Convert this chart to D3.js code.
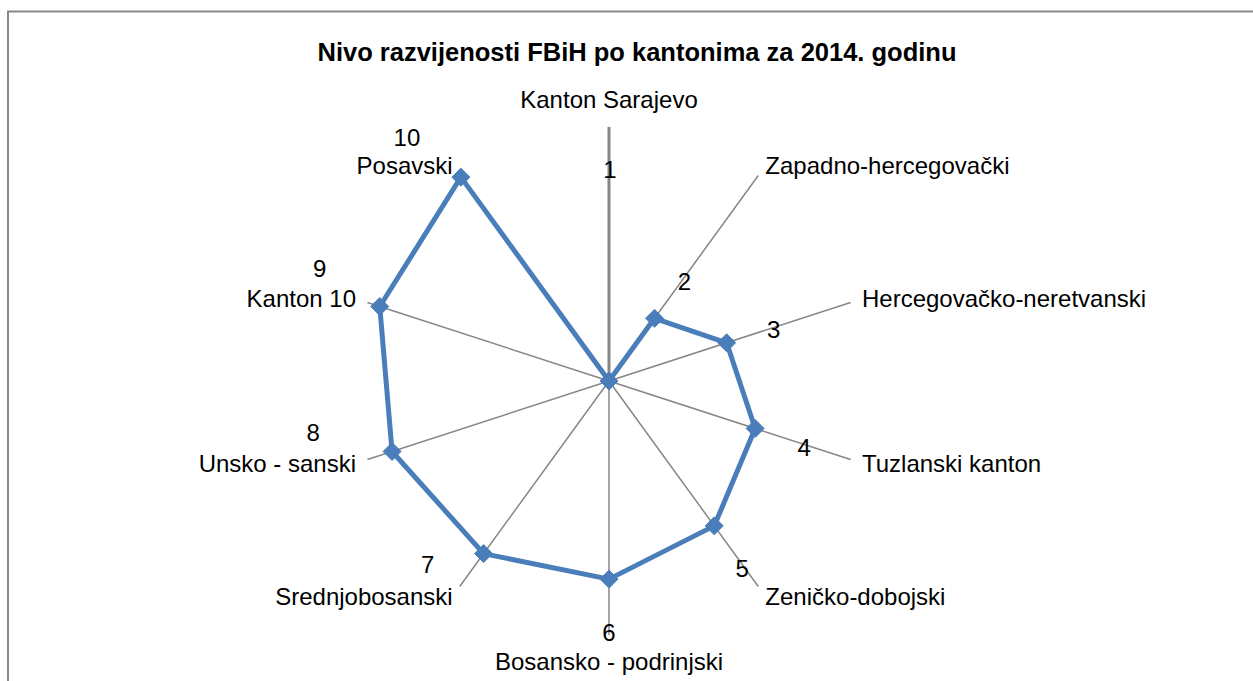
<!DOCTYPE html>
<html>
<head>
<meta charset="utf-8">
<script src="https://cdn.jsdelivr.net/npm/d3@7"></script>
<style>
  html, body { margin: 0; padding: 0; background: #fff; }
  svg text { font-family: "Liberation Sans", Arial, sans-serif; fill: #000; }
</style>
</head>
<body>
<div id="chart"></div>
<script>
// categories (cantons), in chart order going clockwise from the top
const kantoni = [
    "Kanton Sarajevo",
    "Zapadno-hercegovački",
    "Hercegovačko-neretvanski",
    "Tuzlanski kanton",
    "Zeničko-dobojski",
    "Bosansko - podrinjski",
    "Srednjobosanski",
    "Unsko - sanski",
    "Kanton 10",
    "Posavski"
];

// rank labels shown next to each point
const rangovi = ["1", "2", "3", "4", "5", "6", "7", "8", "9", "10"];

// values (share of the outer ring)
const vrijednosti = [0, 0.305, 0.487, 0.605, 0.705, 0.78, 0.84, 0.898, 0.949, 0.992];

// where each rank label sits relative to its marker (px)
const rankOffset = [
    [1, -211], [30, -37], [47, -13], [49, 19], [28, 43],
    [0, 53], [-56, 11], [-79, -19], [-60, -38], [-54, -40]
];

const width = 1253;
const height = 681;
const cx = 609;
const cy = 381;
const radius = 254;

const svg = d3.select("#chart")
    .append("svg")
    .attr("width", width)
    .attr("height", height);

// chart area border
svg.append("rect")
    .attr("x", 8)
    .attr("y", 11.5)
    .attr("width", 1300)
    .attr("height", 700)
    .attr("fill", "#fff")
    .attr("stroke", "#888")
    .attr("stroke-width", 2);

// title
svg.append("text")
    .attr("x", 637)
    .attr("y", 52)
    .attr("dy", "0.35em")
    .attr("text-anchor", "middle")
    .style("font-size", "25.5px")
    .style("font-weight", "bold")
    .text("Nivo razvijenosti FBiH po kantonima za 2014. godinu");

// scales
const r = d3.scaleLinear().domain([0, 1]).range([0, radius]);
const angle = d3.scaleLinear().domain([0, kantoni.length]).range([0, 2 * Math.PI]);

const px = (i, v) => Math.sin(angle(i)) * r(v);
const py = (i, v) => -Math.cos(angle(i)) * r(v);

const g = svg.append("g").attr("transform", `translate(${cx},${cy})`);

// spokes
g.selectAll("line.spoke")
    .data(kantoni)
    .enter()
    .append("line")
    .attr("class", "spoke")
    .attr("x1", 0)
    .attr("y1", 0)
    .attr("x2", (d, i) => px(i, 1))
    .attr("y2", (d, i) => py(i, 1))
    .attr("stroke", "#868686")
    .attr("stroke-width", 1.5);

// value axis (drawn on the first spoke, a bit heavier)
g.append("line")
    .attr("x1", 0).attr("y1", 0)
    .attr("x2", px(0, 1)).attr("y2", py(0, 1))
    .attr("stroke", "#868686")
    .attr("stroke-width", 3);

// category labels
g.selectAll("text.cat")
    .data(kantoni)
    .enter()
    .append("text")
    .attr("class", "cat")
    .attr("x", (d, i) => Math.sin(angle(i)) * (radius + 12))
    .attr("y", (d, i) => {
        const s = Math.sin(angle(i));
        const y = -Math.cos(angle(i)) * (radius + 12);
        return Math.abs(s) < 0.01 ? y - Math.cos(angle(i)) * 15 : y;
    })
    .attr("dy", "0.35em")
    .attr("text-anchor", (d, i) => {
        const s = Math.sin(angle(i));
        return Math.abs(s) < 0.01 ? "middle" : (s > 0 ? "start" : "end");
    })
    .style("font-size", "24px")
    .text(d => d);

// series line
const line = d3.lineRadial()
    .angle((d, i) => angle(i))
    .radius(d => r(d))
    .curve(d3.curveLinearClosed);

g.append("path")
    .datum(vrijednosti)
    .attr("d", line)
    .attr("fill", "none")
    .attr("stroke", "#4A7EBB")
    .attr("stroke-width", 5)
    .attr("stroke-linejoin", "round");

// diamond markers
const m = 9;
g.selectAll("path.marker")
    .data(vrijednosti)
    .enter()
    .append("path")
    .attr("class", "marker")
    .attr("transform", (d, i) => `translate(${px(i, d)},${py(i, d)})`)
    .attr("d", `M0,${-m}L${m},0L0,${m}L${-m},0Z`)
    .attr("fill", "#4A7EBB")
    .attr("stroke", "#4A7EBB")
    .attr("stroke-width", 1);

// rank labels
g.selectAll("text.rank")
    .data(rangovi)
    .enter()
    .append("text")
    .attr("class", "rank")
    .attr("x", (d, i) => px(i, vrijednosti[i]) + rankOffset[i][0])
    .attr("y", (d, i) => py(i, vrijednosti[i]) + rankOffset[i][1])
    .attr("dy", "0.35em")
    .attr("text-anchor", "middle")
    .style("font-size", "24px")
    .text(d => d);
</script>
</body>
</html>
